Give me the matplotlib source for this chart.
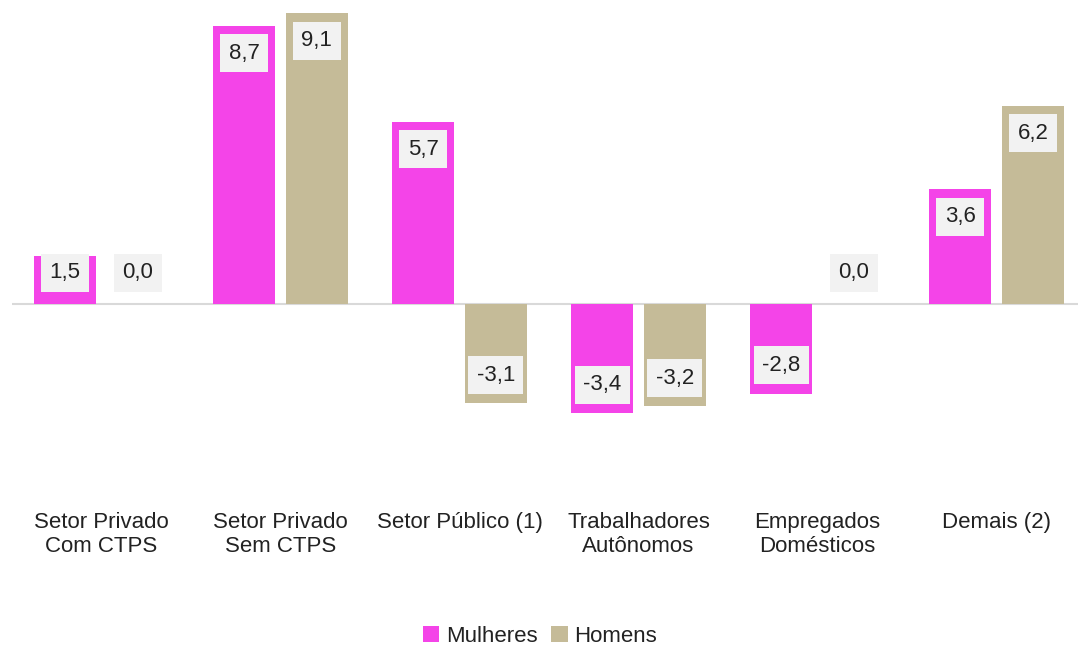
import numpy as np
import matplotlib
matplotlib.use('Agg')
import matplotlib.pyplot as plt

# dados
categorias = ['Setor Privado\nCom CTPS', 'Setor Privado\nSem CTPS', 'Setor Público (1)',
              'Trabalhadores\nAutônomos', 'Empregados\nDomésticos', 'Demais (2)']
mulheres = [1.5, 8.7, 5.7, -3.4, -2.8, 3.6]
homens = [0.0, 9.1, -3.1, -3.2, 0.0, 6.2]
series = ['Mulheres', 'Homens']

cor_m = '#F444E8'
cor_h = '#C5BB98'

plt.rcParams['font.family'] = ['Liberation Sans', 'DejaVu Sans']

fig = plt.figure(figsize=(10.78, 6.48), dpi=100)
ax = fig.add_axes([12 / 1078, (648 - 420) / 648, (1078 - 12) / 1078, 410 / 648])

x = np.arange(len(categorias))
w = 0.346
off = 0.203
b1 = ax.bar(x - off, mulheres, w, color=cor_m, label=series[0], zorder=2)
b2 = ax.bar(x + off, homens, w, color=cor_h, label=series[1], zorder=2)

ax.axhline(0, color='#D9D9D9', lw=1.5, zorder=1)
ax.set_xlim(-0.5, 5.455)
ax.set_ylim(-3.625, 9.1875)

def rotulo(xs, vals):
    for xi, v in zip(xs, vals):
        if v < 0:
            y = v + 0.88
        else:
            y = max(v - 0.87, 0.97)
        ax.text(xi, y, ('%.1f' % v).replace('.', ','), ha='center', va='center',
                fontsize=16, color='#222222', zorder=3,
                bbox=dict(boxstyle='square,pad=0.38', fc='#F2F2F2', ec='none'))

rotulo(x - off, mulheres)
rotulo(x + off, homens)

ax.set_xticks(x)
ax.set_xticklabels(categorias, fontsize=16, color='#222222', linespacing=1.2, va='top')
ax.tick_params(axis='x', length=0, pad=66)
ax.set_yticks([])
for s in ax.spines.values():
    s.set_visible(False)

fig.legend(handles=[b1, b2], labels=series, loc='center', ncol=2, frameon=False,
           bbox_to_anchor=(540 / 1078, 1 - 636 / 648), fontsize=16,
           handlelength=0.75, handleheight=0.75, handletextpad=0.3, columnspacing=0.6,
           labelcolor='#222222')

fig.savefig('out.png', dpi=100, facecolor='white')
